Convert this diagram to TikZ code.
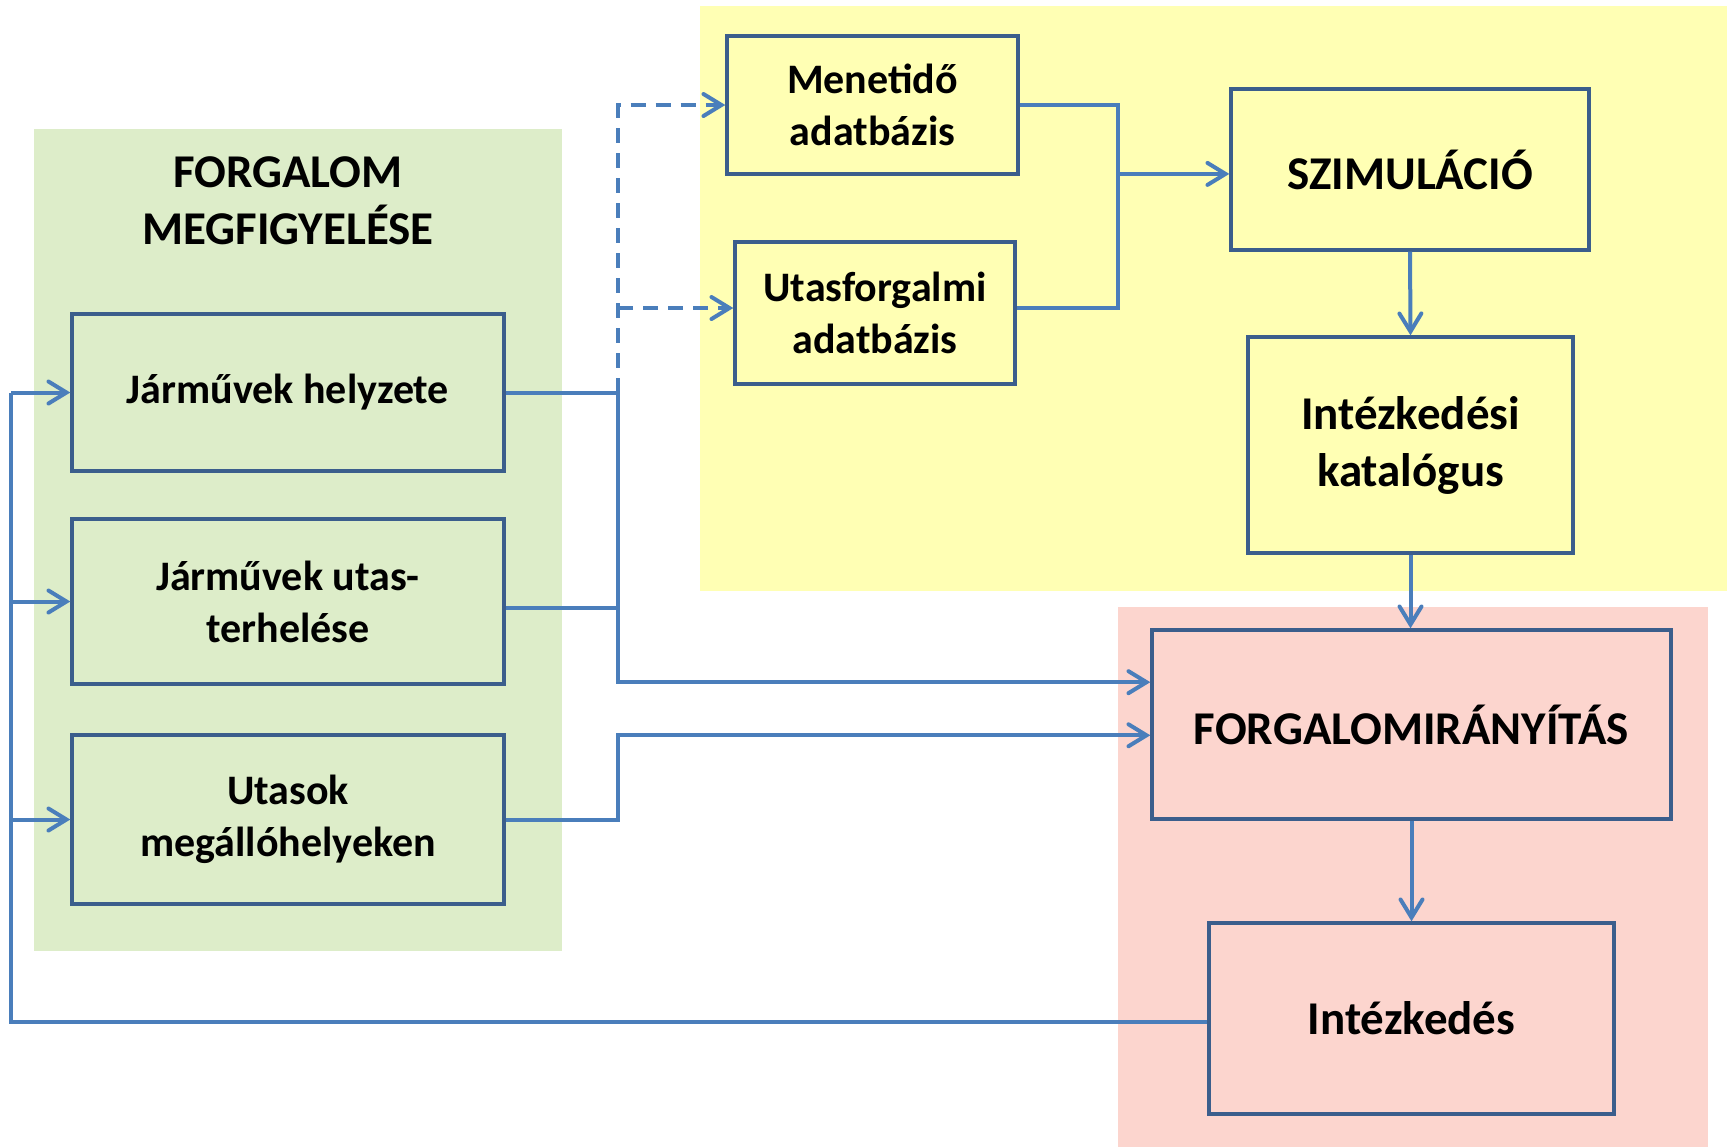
\documentclass[tikz,border=0pt]{standalone}
\usepackage{fontspec}
\setmainfont{Carlito}
\usetikzlibrary{arrows.meta,calc}

\definecolor{bgGreen}{HTML}{DDEDC9}
\definecolor{bgYellow}{HTML}{FFFFB4}
\definecolor{bgPink}{HTML}{FCD5CE}
\definecolor{boxEdge}{HTML}{3B5E8C}
\definecolor{wire}{HTML}{4A7EBB}

\tikzset{
  blk/.style={draw=boxEdge, line width=1.7pt, align=center, inner sep=0pt,
              font=\bfseries\fontsize{21}{26}\selectfont},
  bigblk/.style={blk, font=\bfseries\fontsize{23.5}{28.5}\selectfont},
  wireline/.style={draw=wire, line width=2pt},
  arr/.style={wireline, -{Straight Barb[length=9pt,width=11pt,line cap=round]}},
  dasharr/.style={arr, dash pattern=on 7.5pt off 5pt},
}

\begin{document}
\begin{tikzpicture}[x=0.5pt, y=-0.5pt]
  \path[use as bounding box] (0,0) rectangle (1727,1147);

  % background panels
  \fill[bgGreen]  (34,129)  rectangle (562,951);
  \fill[bgYellow] (700,6)   rectangle (1727,591);
  \fill[bgPink]   (1118,607) rectangle (1708,1147);

  \node[font=\bfseries\fontsize{23.5}{28.5}\selectfont, align=center] (hdr)
    at (288,201) {FORGALOM\\MEGFIGYELÉSE};

  % observation blocks
  \node[blk, fill=bgGreen, minimum width=216pt, minimum height=78.5pt] (h1)
    at (288,392.5) {Járművek helyzete};
  \node[blk, fill=bgGreen, minimum width=216pt, minimum height=82.5pt] (h2)
    at (288,601.5) {Járművek utas-\\terhelése};
  \node[blk, fill=bgGreen, minimum width=216pt, minimum height=84.5pt] (h3)
    at (288,819.5) {Utasok\\megállóhelyeken};

  % databases and simulation
  \node[blk, fill=bgYellow, minimum width=145.5pt, minimum height=69pt] (meneti)
    at (872.5,105) {Menetidő\\adatbázis};
  \node[blk, fill=bgYellow, minimum width=140pt, minimum height=71pt] (utasf)
    at (875,313) {Utasforgalmi\\adatbázis};
  \node[bigblk, fill=bgYellow, minimum width=179pt, minimum height=80.5pt] (szim)
    at (1410,169.5) {SZIMULÁCIÓ};
  \node[bigblk, fill=bgYellow, minimum width=162.5pt, minimum height=108pt] (katal)
    at (1410.5,445) {Intézkedési\\katalógus};

  % control
  \node[bigblk, fill=bgPink, minimum width=259.5pt, minimum height=94.5pt] (forg)
    at (1411.5,724.5) {FORGALOMIRÁNYÍTÁS};
  \node[bigblk, fill=bgPink, minimum width=202.5pt, minimum height=95.5pt] (intezk)
    at (1411.5,1018.5) {Intézkedés};

  % helper coordinates for the vertical wire runs
  \coordinate (fb)  at (11,0);
  \coordinate (bus) at (618,0);
  \coordinate (mg)  at (1118,0);
  \coordinate (fin1) at ($(forg.north west)!0.28!(forg.south west)$);
  \coordinate (fin2) at ($(forg.north west)!0.556!(forg.south west)$);
  \coordinate (h2out) at ([yshift=-3pt]h2.east);
  \coordinate (ufin)  at ([yshift=2.5pt]utasf.west);
  \coordinate (uout)  at ([yshift=2.5pt]utasf.east);
  \coordinate (sin)   at ([yshift=-2.2pt]szim.west);
  \coordinate (iout)  at ([yshift=-1.8pt]intezk.west);

  % feedback loop
  \draw[wireline] (iout) -- (iout -| fb) -- (h1.west -| fb);
  \draw[arr] (h1.west -| fb) -- (h1.west);
  \draw[arr] (h2.west -| fb) -- (h2.west);
  \draw[arr] (h3.west -| fb) -- (h3.west);

  % observations to control
  \draw[wireline] (h1.east) -- (h1.east -| bus);
  \draw[wireline] (h2out) -- (h2out -| bus);
  \draw[arr] (h1.east -| bus) -- (bus |- fin1) -- (fin1);
  \draw[arr] (h3.east) -- (h3.east -| bus) -- (bus |- fin2) -- (fin2);

  % observations to databases
  \draw[dasharr] (h1.east -| bus) -- (bus |- meneti.west) -- (meneti.west);
  \draw[dasharr] (bus |- ufin) -- (ufin);

  % databases to simulation
  \draw[wireline] (meneti.east) -- (meneti.east -| mg) -- (uout -| mg) -- (uout);
  \draw[arr] (sin -| mg) -- (sin);

  % simulation chain
  \draw[arr] (szim.south) -- (katal.north);
  \draw[arr] (katal.south) -- (katal.south |- forg.north);
  \draw[arr] (forg.south) -- (intezk.north);
\end{tikzpicture}
\end{document}
